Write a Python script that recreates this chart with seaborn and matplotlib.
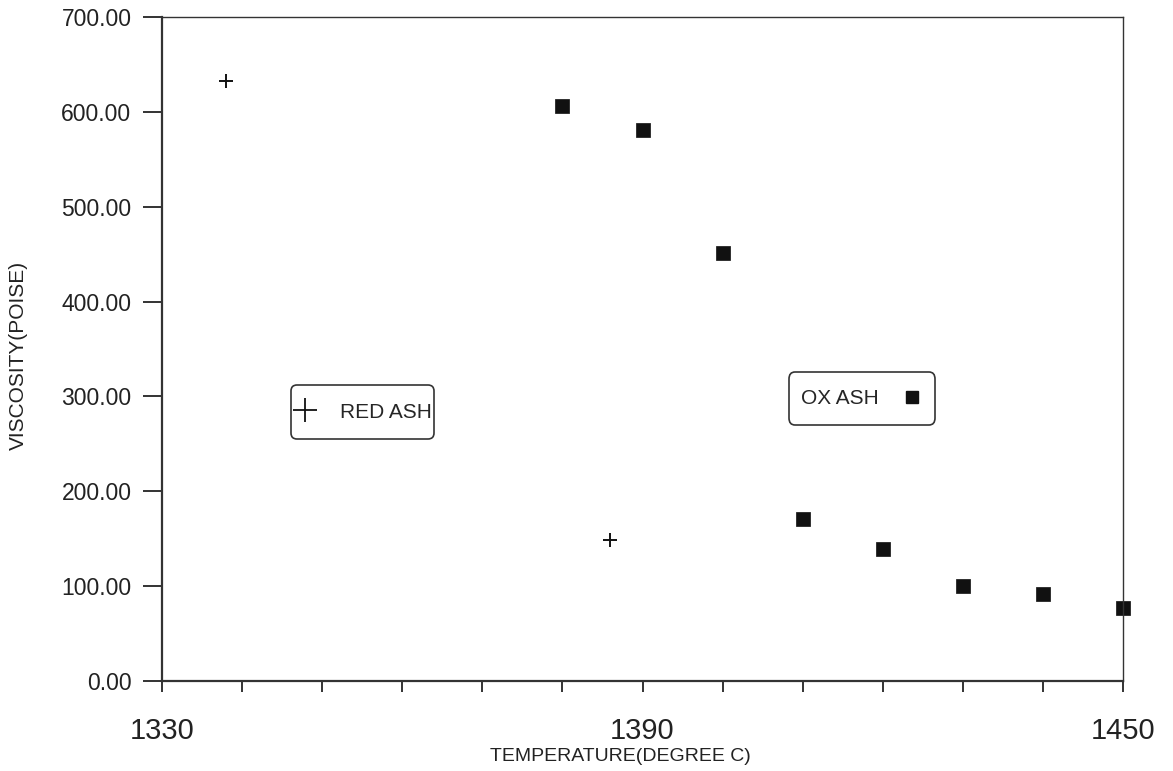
import matplotlib
matplotlib.use("Agg")
import matplotlib.pyplot as plt
from matplotlib.lines import Line2D
from matplotlib.patches import BoxStyle
import seaborn as sns
import pandas as pd

# Viscosity measurements of reduced and oxidised ash
red_temp = [1338, 1386]
red_visc = [633, 149]
ox_temp = [1380, 1390, 1400, 1410, 1420, 1430, 1440, 1450]
ox_visc = [606, 581, 451, 171, 139, 100, 92, 77]

x_ticks = list(range(1330, 1451, 10))
x_tick_labels = ["1330", "", "", "", "", "", "1390", "", "", "", "", "", "1450"]
y_ticks = [0, 100, 200, 300, 400, 500, 600, 700]

sns.set_theme(style="white")
plt.rcParams["font.family"] = ["Liberation Sans", "DejaVu Sans"]

red_df = pd.DataFrame({"temp": red_temp, "visc": red_visc})
ox_df = pd.DataFrame({"temp": ox_temp, "visc": ox_visc})

fig = plt.figure(figsize=(11.73, 7.71), dpi=100)
ax = fig.add_axes([0.1381, 0.1167, 0.8193, 0.8613])

sns.scatterplot(data=red_df, x="temp", y="visc", marker="+", s=90,
                color="#111111", linewidth=1.4, ax=ax, clip_on=False)
sns.scatterplot(data=ox_df, x="temp", y="visc", marker="s", s=95,
                color="#111111", edgecolor="#111111", linewidth=0.5,
                ax=ax, clip_on=False)

ax.set_xlim(1330, 1450)
ax.set_ylim(0, 700)
ax.set_xticks(x_ticks)
ax.set_xticklabels(x_tick_labels, fontsize=21)
ax.set_yticks(y_ticks)
ax.set_yticklabels([f"{v:.2f}" for v in y_ticks], fontsize=16.5)

ax.tick_params(axis="x", direction="out", length=8, width=1.4,
               color="#333333", pad=18, bottom=True, labelcolor="#222222")
ax.tick_params(axis="y", direction="out", length=14, width=1.4,
               color="#333333", pad=8, left=True, labelcolor="#222222")

for side, spine in ax.spines.items():
    spine.set_visible(True)
    spine.set_color("#333333")
    spine.set_linewidth(1.6 if side in ("left", "bottom") else 1.0)

ax.set_xlabel("TEMPERATURE(DEGREE C)", fontsize=14, color="#222222",
              va="center")
ax.xaxis.set_label_coords(0.4766, -0.113)
ax.set_ylabel("VISCOSITY(POISE)", fontsize=15, color="#222222",
              va="center")
ax.yaxis.set_label_coords(-0.1498, 0.491)


def tall_box(extra):
    """Rounded frame that reaches `extra` font sizes above and below."""
    base = BoxStyle.Round(pad=0, rounding_size=0.3)

    def style(x0, y0, width, height, mutation_size):
        ey = extra * mutation_size
        return base(x0, y0 - ey, width, height + 2 * ey, mutation_size)
    return style


# Key boxes for the two ash types
red_handle = Line2D([], [], linestyle="none", marker="+", markersize=17,
                    markeredgewidth=1.3, color="#111111")
ox_handle = Line2D([], [], linestyle="none", marker="s", markersize=9,
                   color="#111111")

leg_red = ax.legend([red_handle], ["RED ASH"], loc="center",
                    bbox_to_anchor=(0.309, 0.4656),
                    bbox_transform=fig.transFigure, fontsize=15,
                    frameon=True, fancybox=True, handlelength=1.06,
                    handletextpad=1.15, borderpad=0.12, borderaxespad=0)
leg_red.get_frame().set_boxstyle(tall_box(0.72))
leg_red.get_frame().set_edgecolor("#333333")
leg_red.get_frame().set_linewidth(1.2)
leg_red.get_frame().set_alpha(1)
ax.add_artist(leg_red)

leg_ox = ax.legend([ox_handle], ["OX ASH"], loc="center",
                   bbox_to_anchor=(0.7349, 0.4831),
                   bbox_transform=fig.transFigure, fontsize=15,
                   frameon=True, fancybox=True, markerfirst=False,
                   handlelength=1.0, handletextpad=1.1, borderpad=0.6,
                   borderaxespad=0)
leg_ox.get_frame().set_boxstyle(tall_box(0.2))
leg_ox.get_frame().set_edgecolor("#333333")
leg_ox.get_frame().set_linewidth(1.2)
leg_ox.get_frame().set_alpha(1)

fig.savefig("out.png", dpi=100)
